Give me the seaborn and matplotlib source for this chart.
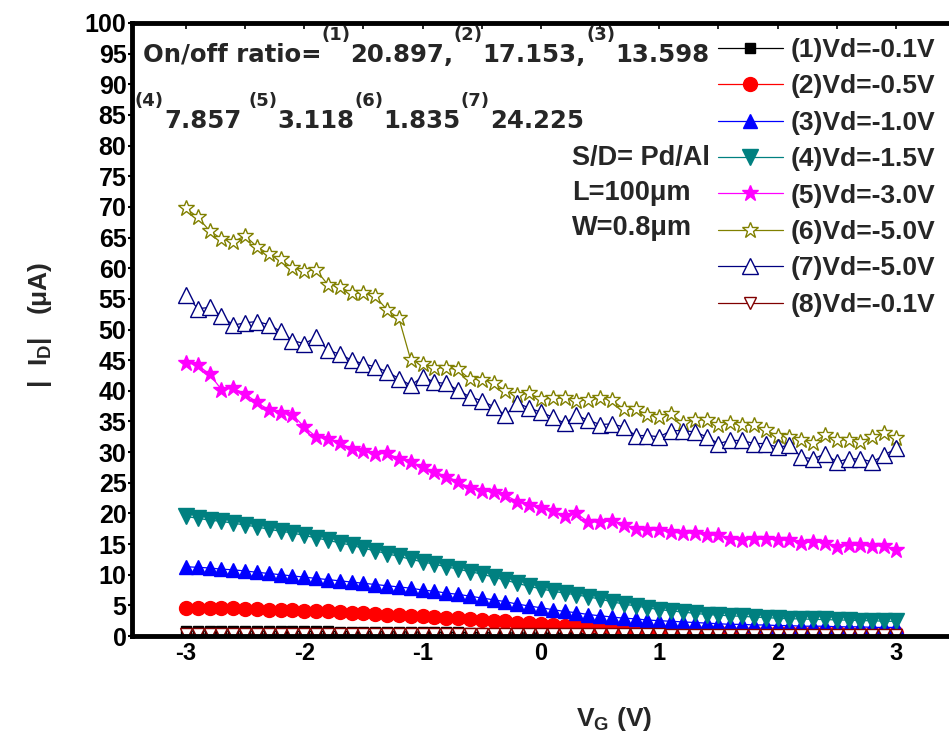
import numpy as np
import pandas as pd
import matplotlib
matplotlib.use("Agg")
import matplotlib.pyplot as plt
from matplotlib.ticker import MultipleLocator
import seaborn as sns

# ---------------- data ----------------
vg = [round(-3.0 + 0.1 * i, 1) for i in range(61)]

s1_vd01 = [0.80, 0.80, 0.80, 0.80, 0.80, 0.79, 0.79, 0.78, 0.78, 0.77, 0.76,
           0.75, 0.74, 0.73, 0.72, 0.71, 0.70, 0.69, 0.68, 0.66, 0.64,
           0.62, 0.60, 0.58, 0.56, 0.54, 0.52, 0.50, 0.48, 0.46, 0.44,
           0.42, 0.40, 0.38, 0.36, 0.34, 0.32, 0.30, 0.28, 0.26, 0.25,
           0.24, 0.23, 0.22, 0.21, 0.20, 0.19, 0.18, 0.17, 0.16, 0.15,
           0.15, 0.14, 0.14, 0.13, 0.13, 0.12, 0.12, 0.11, 0.11, 0.10]

s2_vd05 = [4.6, 4.6, 4.6, 4.5, 4.5, 4.4, 4.4, 4.3, 4.2, 4.2, 4.1,
           4.0, 4.0, 3.9, 3.8, 3.7, 3.6, 3.5, 3.4, 3.3, 3.2,
           3.1, 3.0, 2.9, 2.8, 2.6, 2.5, 2.4, 2.2, 2.1, 2.0,
           1.8, 1.7, 1.6, 1.5, 1.4, 1.3, 1.2, 1.1, 1.0, 0.95,
           0.90, 0.85, 0.80, 0.78, 0.75, 0.72, 0.70, 0.68, 0.66, 0.64,
           0.63, 0.62, 0.60, 0.60, 0.58, 0.57, 0.56, 0.55, 0.55, 0.54]

s3_vd10 = [11.3, 11.2, 11.1, 10.9, 10.8, 10.6, 10.4, 10.2, 10.0, 9.8, 9.6,
           9.4, 9.2, 9.0, 8.8, 8.6, 8.4, 8.2, 8.0, 7.8, 7.5,
           7.3, 7.0, 6.8, 6.5, 6.2, 5.9, 5.6, 5.2, 4.9, 4.6,
           4.3, 4.0, 3.8, 3.5, 3.3, 3.1, 2.9, 2.8, 2.6, 2.5,
           2.4, 2.3, 2.2, 2.1, 2.0, 1.9, 1.9, 1.8, 1.8, 1.7,
           1.7, 1.6, 1.6, 1.6, 1.5, 1.5, 1.5, 1.4, 1.4, 1.4]

s4_vd15 = [19.5, 19.2, 18.9, 18.7, 18.4, 18.1, 17.8, 17.4, 17.1, 16.8, 16.4,
           16.0, 15.6, 15.2, 14.8, 14.3, 13.9, 13.4, 13.0, 12.5, 12.1,
           11.7, 11.3, 10.9, 10.5, 10.1, 9.6, 9.1, 8.6, 8.1, 7.7,
           7.3, 7.0, 6.7, 6.4, 6.0, 5.6, 5.2, 4.9, 4.6, 4.3,
           4.1, 3.9, 3.7, 3.5, 3.4, 3.3, 3.2, 3.1, 3.0, 2.9,
           2.8, 2.8, 2.7, 2.7, 2.6, 2.6, 2.5, 2.5, 2.4, 2.4]

s5_vd30 = [44.6, 44.2, 42.7, 40.2, 40.4, 39.5, 38.1, 36.9, 36.4, 36.1,
           34.1, 32.5, 32.1, 31.5, 30.5, 30.1, 29.7, 29.8, 28.9, 28.4,
           27.6, 26.8, 26.0, 25.2, 24.1, 23.7, 23.5, 23.0, 21.9,
           21.4, 20.8, 20.4, 19.6, 20.0, 18.6, 18.6, 18.8, 18.1, 17.4,
           17.3, 17.3, 16.9, 16.8, 16.8, 16.5, 16.5, 15.9, 15.7, 15.8,
           15.8, 15.7, 15.7, 15.1, 15.4, 15.2, 14.6, 14.8, 14.8, 14.7,
           14.7, 14.0]

s6_vd50 = [69.8, 68.3, 66.1, 64.8, 64.3, 65.3, 63.5, 62.3, 61.5, 60.0,
           59.6, 59.7, 57.3, 57.0, 55.9, 55.9, 55.4, 53.2, 51.8,
           45.0, 44.3, 43.8, 43.7, 43.5, 41.9, 41.8, 41.3, 40.0, 39.3,
           39.6, 38.6, 38.8, 38.8, 38.4, 38.5, 38.8, 38.5, 37.0, 37.0,
           36.1, 35.7,
           36.2, 34.7, 35.2, 35.3, 34.4, 34.7, 34.4, 34.4, 33.6, 32.6,
           32.5, 32.0, 31.5, 32.8, 32.0, 32.0, 31.7, 32.4, 33.1, 32.3]

s7_vd50 = [55.7, 53.4, 53.6, 52.2, 50.7, 51.1, 51.3, 50.8, 49.7, 48.2,
           47.7, 48.7, 46.6, 46.0, 45.0, 44.4, 43.9, 43.1, 42.0, 40.9,
           42.3, 41.4, 41.2, 40.1, 39.0, 38.4, 37.4, 36.0, 38.0, 37.2,
           36.5, 35.7, 34.7, 36.0, 35.2, 34.5, 34.6, 34.1, 32.7, 32.7,
           32.5,
           33.5, 33.5, 33.3, 32.5, 31.4, 31.9, 31.9, 31.4, 31.4, 30.8,
           31.1, 29.2, 28.9, 29.7, 28.4, 28.9, 28.9, 28.4, 29.5, 30.6]

s8_vd01 = [0.30, 0.30, 0.30, 0.30, 0.30, 0.30, 0.30, 0.30, 0.30, 0.30, 0.30,
           0.29, 0.29, 0.29, 0.29, 0.29, 0.29, 0.29, 0.28, 0.28, 0.28,
           0.28, 0.28, 0.28, 0.27, 0.27, 0.27, 0.27, 0.27, 0.26, 0.26,
           0.26, 0.26, 0.26, 0.25, 0.25, 0.25, 0.25, 0.25, 0.25, 0.25,
           0.24, 0.24, 0.24, 0.24, 0.24, 0.24, 0.24, 0.23, 0.23, 0.23,
           0.23, 0.23, 0.23, 0.23, 0.22, 0.22, 0.22, 0.22, 0.22, 0.22]

labels = ["(1)Vd=-0.1V", "(2)Vd=-0.5V", "(3)Vd=-1.0V", "(4)Vd=-1.5V",
          "(5)Vd=-3.0V", "(6)Vd=-5.0V", "(7)Vd=-5.0V", "(8)Vd=-0.1V"]
series = [s1_vd01, s2_vd05, s3_vd10, s4_vd15, s5_vd30, s6_vd50, s7_vd50, s8_vd01]

x_ticks = [-3, -2, -1, 0, 1, 2, 3]
y_ticks = list(range(0, 101, 5))

ratio_line1 = [("On/off ratio=", False), ("(1)", True), ("20.897,", False),
               ("(2)", True), ("17.153,", False), ("(3)", True), ("13.598", False)]
ratio_line2 = [("(4)", True), ("7.857", False), (None, None), ("(5)", True),
               ("3.118", False), ("(6)", True), ("1.835", False),
               ("(7)", True), ("24.225", False)]
device_info = ["S/D= Pd/Al", "L=100μm", "W=0.8μm"]

# ---------------- style ----------------
colors = ["#000000", "#FF0000", "#0000FF", "#008080",
          "#FF00FF", "#808000", "#000080", "#800000"]
markers = ["s", "o", "^", "v", "*", "*", "^", "v"]
filled = [True, True, True, True, True, False, False, False]
msizes = [7, 10, 10, 11, 12, 12, 11, 9]

sns.set_theme(style="ticks")
plt.rcParams["font.family"] = ["Liberation Sans", "DejaVu Sans"]
plt.rcParams["font.weight"] = "bold"
plt.rcParams["mathtext.fontset"] = "custom"
plt.rcParams["mathtext.rm"] = "Liberation Sans:bold"
plt.rcParams["mathtext.it"] = "Liberation Sans:bold"
plt.rcParams["mathtext.bf"] = "Liberation Sans:bold"
plt.rcParams["mathtext.default"] = "bf"

W, H = 949, 742
fig = plt.figure(figsize=(W / 100, H / 100), dpi=100)
ax = fig.add_axes([132 / W, 1 - 636 / H, 1 - 132 / W, (636 - 23) / H])

for vals, lab, c, m, f, ms in zip(series, labels, colors, markers, filled, msizes):
    sns.lineplot(x=vg, y=vals, ax=ax, label=lab, color=c, marker=m,
                 markersize=ms, markeredgecolor=c,
                 markerfacecolor=(c if f else "white"),
                 markeredgewidth=1.0, linewidth=0.9, sort=False,
                 estimator=None, legend=False)

ax.set_xlim(-3.456, 3.448)
ax.set_ylim(0, 100)
ax.set_xticks(x_ticks)
ax.set_xticklabels([str(t) for t in x_ticks])
ax.set_yticks(y_ticks)
ax.set_yticklabels([str(t) for t in y_ticks])
ax.xaxis.set_minor_locator(MultipleLocator(0.5))

for sp in ["left", "bottom", "top"]:
    ax.spines[sp].set_linewidth(3.5)
    ax.spines[sp].set_color("black")
ax.spines["right"].set_visible(False)

ax.tick_params(axis="y", direction="out", length=3, width=1.5, pad=1,
               labelsize=18, colors="black")
ax.tick_params(axis="x", which="both", direction="in", length=4, width=1.2,
               pad=4, labelsize=17, colors="black", top=True, bottom=False)
for lbl in ax.get_xticklabels() + ax.get_yticklabels():
    lbl.set_fontweight("bold")

ax.set_xlabel(r"V$_{\mathbf{G}}$ (V)", fontsize=19, fontweight="bold")
ax.xaxis.set_label_coords((614 - 132) / (W - 132), -(705 - 636) / (636 - 23))
ax.set_ylabel(r"|  I$_{\mathbf{D}}$|   ($\mu$A)", fontsize=19, fontweight="bold")
ax.yaxis.set_label_coords((54 - 132) / (W - 132), (636 - 325) / (636 - 23))

leg = ax.legend(loc="upper left", bbox_to_anchor=(718 / W, 1 - 38 / H),
                bbox_transform=fig.transFigure, frameon=False, fontsize=19,
                handlelength=2.45, handletextpad=0.3, labelspacing=0.47,
                borderpad=0, borderaxespad=0, numpoints=1)
for t in leg.get_texts():
    t.set_fontweight("bold")

# on/off ratio annotation with superscripts, placed segment by segment
renderer = fig.canvas.get_renderer()


def place_line(segments, x0, base_main, base_sup):
    x = x0
    for s, sup in segments:
        if s is None:
            x += 7
            continue
        t = fig.text(x / W, 1 - (base_sup if sup else base_main) / H, s,
                     fontsize=(13 if sup else 17.6), fontweight="bold",
                     family=["DejaVu Sans"], va="baseline", ha="left")
        bb = t.get_window_extent(renderer)
        x = bb.x1


place_line(ratio_line1, 143, 62, 40)
place_line(ratio_line2, 135, 128, 106)

for txt, yb in zip(device_info, [165, 200, 235]):
    fig.text(572 / W, 1 - yb / H, txt, fontsize=19.5, fontweight="bold",
             va="baseline", ha="left")

fig.savefig("out.png", dpi=100)
